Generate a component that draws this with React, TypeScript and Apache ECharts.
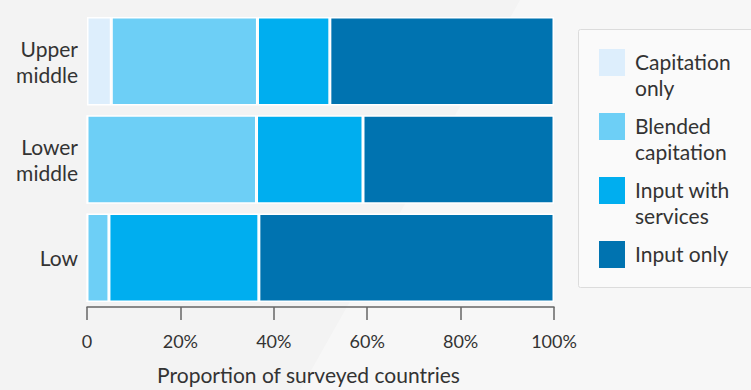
import React, { useEffect, useRef } from "react";
import * as echarts from "echarts";

// Income groups, top to bottom
const categories = ["Upper middle", "Lower middle", "Low"];
const categoryLabels = ["Upper\nmiddle", "Lower\nmiddle", "Low"];

// Share of surveyed countries (%) by payment model
const seriesNames = ["Capitation only", "Blended capitation", "Input with services", "Input only"];
const legendLabels = ["Capitation\nonly", "Blended\ncapitation", "Input with\nservices", "Input only"];
const capitationOnly = [5.2, 0, 0];
const blendedCapitation = [31.3, 36.3, 4.7];
const inputWithServices = [15.5, 22.8, 32.1];
const inputOnly = [48.0, 40.9, 63.2];
const seriesValues = [capitationOnly, blendedCapitation, inputWithServices, inputOnly];

const xTicks = [0, 20, 40, 60, 80, 100];
const colors = ["#ddeefc", "#6dcff6", "#00aeef", "#0073b0"];

const FONT = "Lato, 'Noto Sans', sans-serif";
const TEXT = "#333333";

export default function App() {
  const ref = useRef<HTMLDivElement>(null);

  useEffect(() => {
    if (!ref.current) return;
    const chart = echarts.init(ref.current, undefined, { renderer: "svg" });

    const legendGraphics: any[] = [];
    seriesNames.forEach((name, i) => {
      const top = 49 + i * 64;
      legendGraphics.push({
        type: "rect",
        shape: { x: 599, y: top, width: 26, height: 27 },
        style: { fill: colors[i] },
        silent: true,
      });
      legendGraphics.push({
        type: "text",
        x: 635,
        y: top - 1,
        style: {
          text: legendLabels[i],
          fill: TEXT,
          font: `21px ${FONT}`,
          lineHeight: 26,
          verticalAlign: "top",
          align: "left",
        },
        silent: true,
      });
    });

    chart.setOption({
      animation: false,
      backgroundColor: "#f3f3f3",
      textStyle: { fontFamily: FONT },
      graphic: [
        {
          type: "polygon",
          z: -10,
          shape: { points: [[520, 0], [751, 0], [751, 390], [300, 390]] },
          style: { fill: "rgba(255,255,255,0.35)" },
          silent: true,
        },
        {
          type: "rect",
          shape: { x: 578.5, y: 29.5, width: 200, height: 258, r: 2 },
          style: { fill: "#fafafa", stroke: "#dcdcdc", lineWidth: 1 },
          silent: true,
        },
        ...legendGraphics,
      ],
      grid: { left: 87, right: 197, top: 12, bottom: 79, containLabel: false },
      xAxis: {
        type: "value",
        min: 0,
        max: 100,
        interval: 20,
        name: "Proportion of surveyed countries",
        nameLocation: "middle",
        nameGap: 57,
        nameTextStyle: { color: TEXT, fontSize: 21, fontFamily: FONT, padding: [0, 24, 0, 0] },
        axisLine: { show: true, lineStyle: { color: "#666666", width: 1.5 } },
        axisTick: { show: true, length: 13, lineStyle: { color: "#666666", width: 1.5 } },
        axisLabel: {
          color: TEXT,
          fontSize: 18,
          fontFamily: FONT,
          margin: 25,
          formatter: (v: number) => (v === 0 ? "0" : `${v}%`),
          customValues: xTicks,
        },
        splitLine: { show: false },
      },
      yAxis: {
        type: "category",
        data: categories,
        inverse: true,
        axisLine: { show: false },
        axisTick: { show: false },
        axisLabel: {
          color: TEXT,
          fontSize: 21,
          fontFamily: FONT,
          lineHeight: 26,
          margin: 9,
          align: "right",
          padding: [0, 0, 8, 0],
          formatter: (v: string) => categoryLabels[categories.indexOf(v)],
        },
      },
      series: seriesNames.map((name, i) => ({
        name,
        type: "bar",
        stack: "total",
        barCategoryGap: "10%",
        data: seriesValues[i],
        itemStyle: { color: colors[i], borderColor: "#ffffff", borderWidth: 1.5 },
        emphasis: { disabled: true },
      })),
    });

    return () => chart.dispose();
  }, []);

  return (
    <div
      ref={ref}
      style={{ position: "fixed", left: 0, top: 0, width: 751, height: 390 }}
    />
  );
}
